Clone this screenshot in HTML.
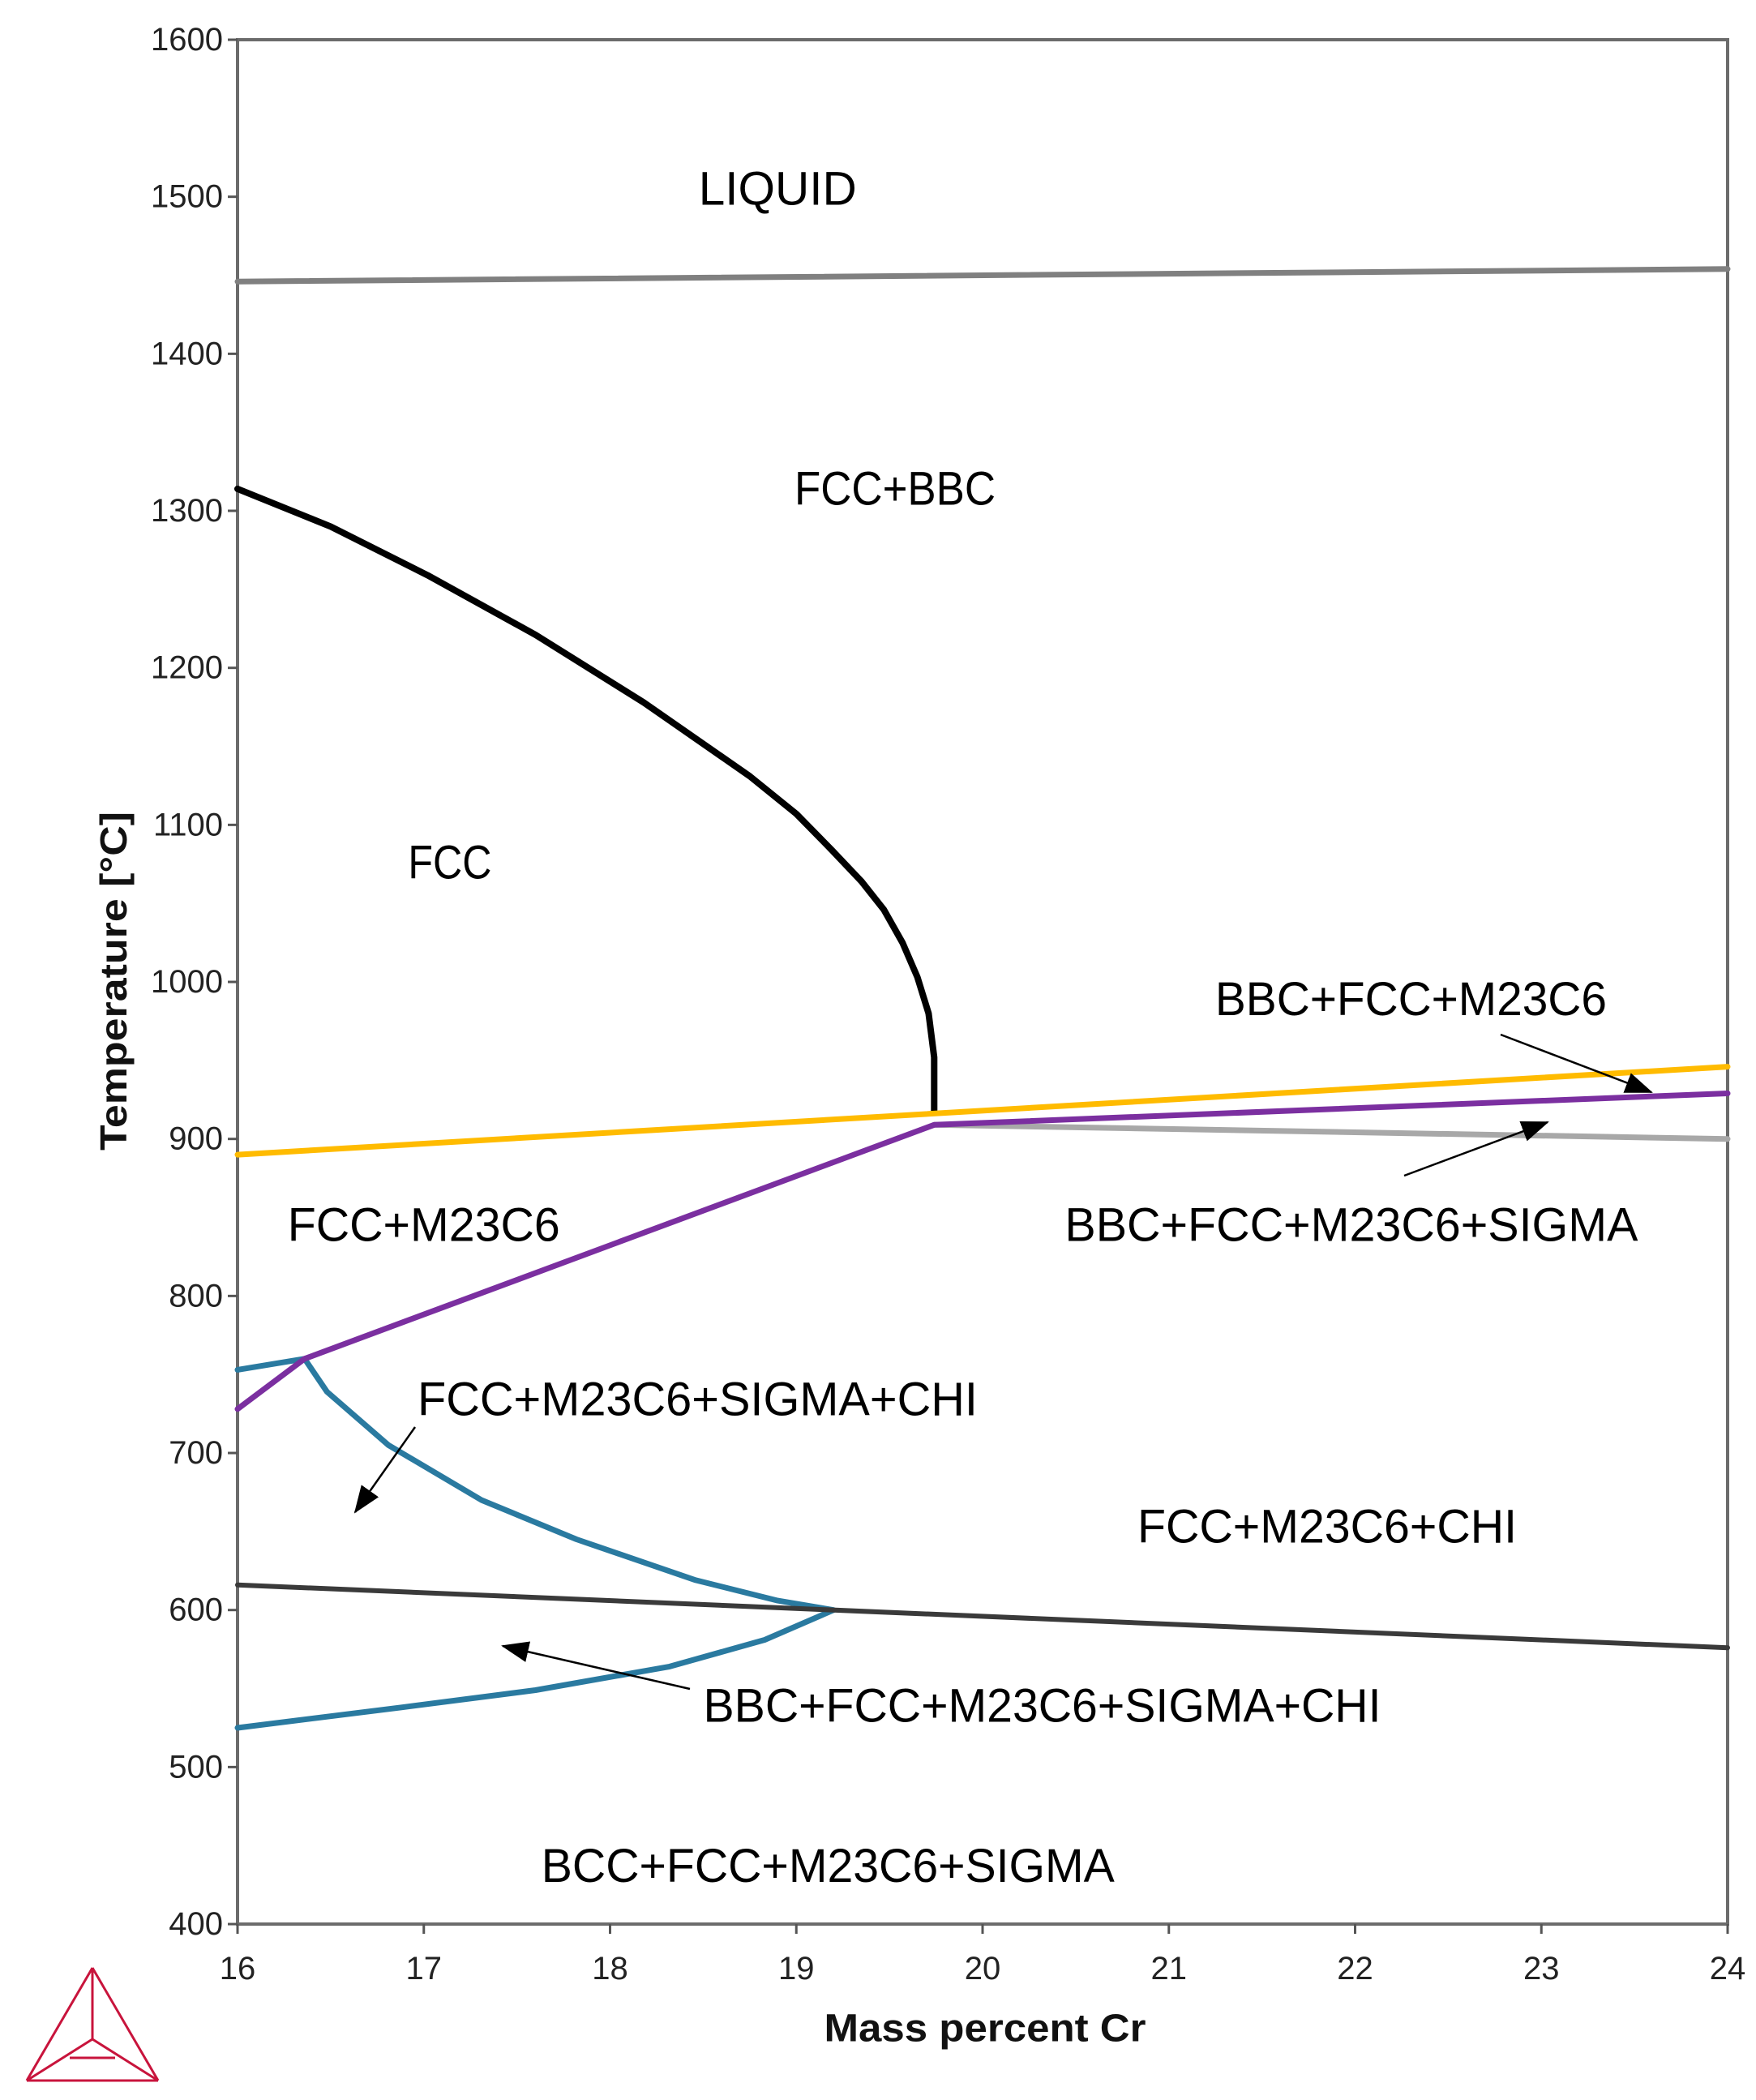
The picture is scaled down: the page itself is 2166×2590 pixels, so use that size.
<!DOCTYPE html>
<html><head><meta charset="utf-8"><style>
html,body{margin:0;padding:0;background:#fff;}
svg{display:block;}
text{font-family:"Liberation Sans",sans-serif;}
</style></head><body>
<svg id="chart" width="2166" height="2590" viewBox="0 0 2166 2590" xmlns="http://www.w3.org/2000/svg">
<defs>
<marker id="ah2" markerWidth="34" markerHeight="26" refX="32" refY="13" orient="auto" markerUnits="userSpaceOnUse"><path d="M0,0 L34,13 L0,26 z" fill="#000"/></marker></defs>
<g id="plot"></g>
</svg>
<script>
const xTicks=[16,17,18,19,20,21,22,23,24];
const yTicks=[400,500,600,700,800,900,1000,1100,1200,1300,1400,1500,1600];
const liquidX=[16,24], liquidT=[1446,1454];
const fccX=[16,16.5,17.02,17.6,18.18,18.75,19.0,19.19,19.35,19.47,19.57,19.65,19.71,19.74,19.74], fccT=[1314,1290,1259,1221,1178,1131,1107,1084,1064,1046,1025,1003,980,952,918];
const yellowX=[16,24], yellowT=[890,946];
const purpleX=[16,16.36,19.74,24], purpleT=[728,760,909,929];
const grayX=[19.74,24], grayT=[909,900];
const blueX=[16,16.36,16.48,16.81,17.31,17.82,18.46,18.9,19.2,18.83,18.32,17.6,16.88,16], blueT=[753,760,739,705,670,645,619,606,600,581,564,549,538,525];
const darkX=[16,24], darkT=[616,576];
const labelText=["LIQUID","FCC+BBC","FCC","BBC+FCC+M23C6","BBC+FCC+M23C6+SIGMA","FCC+M23C6","FCC+M23C6+SIGMA+CHI","FCC+M23C6+CHI","BBC+FCC+M23C6+SIGMA+CHI","BCC+FCC+M23C6+SIGMA"];
const labelX=[18.90,19.53,17.14,22.30,21.98,17.0,18.47,21.85,20.32,19.17];
const labelT=[1505,1314,1076,989,845,845,734,653,539,437];
const labelW=[195,248,103,483,707,336,691,468,836,707];

const NS="http://www.w3.org/2000/svg";
const g=document.getElementById('plot');
const X=v=>293+(v-16)*229.75;
const Y=t=>49+(1600-t)*1.9367;
function mk(tag,attrs){const e=document.createElementNS(NS,tag);for(const k in attrs)e.setAttribute(k,attrs[k]);g.appendChild(e);return e;}
let fr=mk('rect',{x:X(16),y:Y(1600),width:X(24)-X(16),height:Y(400)-Y(1600),fill:'none',stroke:'#6b6b6b','stroke-width':4});


yTicks.forEach(t=>{
 let l=mk('line',{x1:X(16)-12,x2:X(16),y1:Y(t),y2:Y(t),stroke:'#555','stroke-width':3});
 
 
 let tx=mk('text',{x:X(16)-18,y:Y(t),'text-anchor':'end','dominant-baseline':'central','font-size':40,fill:'#222'});
 tx.textContent=t;
 
 
});
xTicks.forEach(v=>{
 let l=mk('line',{x1:X(v),x2:X(v),y1:Y(400),y2:Y(400)+12,stroke:'#555','stroke-width':3});
 
 
 let tx=mk('text',{x:X(v),y:2428,'text-anchor':'middle','dominant-baseline':'central','font-size':40,fill:'#222'});
 tx.textContent=v;
 
 
});
function line(xs,ts,color,w,name){
 const d=xs.map((x,i)=>(i?'L':'M')+X(x).toFixed(1)+','+Y(ts[i]).toFixed(1)).join(' ');
 let p=mk('path',{d:d,fill:'none',stroke:color,'stroke-width':w,'stroke-linejoin':'round','stroke-linecap':'round'});
 
 
}
line(liquidX,liquidT,'#808080',7,'liquidus-line');
line(grayX,grayT,'#a8a8a8',7,'sigma-boundary-line');
line(fccX,fccT,'#000',8,'fcc-boundary-curve');
line(blueX,blueT,'#2a7aa0',7,'chi-boundary-curve');
line(darkX,darkT,'#3a3a3a',6,'bcc-boundary-line');
line(purpleX,purpleT,'#7b2fa0',7,'m23c6-boundary-line');
line(yellowX,yellowT,'#ffbb00',7,'bcc-solvus-line');
labelText.forEach((s,i)=>{
 let t=mk('text',{x:X(labelX[i]),y:Y(labelT[i]),'text-anchor':'middle','dominant-baseline':'central','font-size':58,fill:'#000',textLength:labelW[i],lengthAdjust:'spacingAndGlyphs'});
 t.textContent=s;
 
 
});
const arrows=[[1851,1276,2037,1347],[1732,1450,1909,1384],[512,1760,438,1865],[851,2083,620,2030]];
arrows.forEach(a=>{
 let l=mk('line',{x1:a[0],y1:a[1],x2:a[2],y2:a[3],stroke:'#000','stroke-width':2.5,'marker-end':'url(#ah2)'});
 
 
});
let yt=mk('text',{x:0,y:0,transform:'translate(140,1210) rotate(-90)','text-anchor':'middle','dominant-baseline':'central','font-size':46,'font-weight':'bold',fill:'#111',textLength:418,lengthAdjust:'spacingAndGlyphs'});
yt.textContent='Temperature [°C]';


let xt=mk('text',{x:1215,y:2502,'text-anchor':'middle','dominant-baseline':'central','font-size':48,'font-weight':'bold',fill:'#111',textLength:397,lengthAdjust:'spacingAndGlyphs'});
xt.textContent='Mass percent Cr';


const logo=[[114,2427,33,2566],[114,2427,195,2566],[33,2566,195,2566],[114,2427,114,2515],[114,2515,33,2566],[114,2515,195,2566],[86,2538,142,2538]];
logo.forEach(a=>{
 let l=mk('line',{x1:a[0],y1:a[1],x2:a[2],y2:a[3],stroke:'#c8143c','stroke-width':3});
 
 
});
</script>
</body></html>
